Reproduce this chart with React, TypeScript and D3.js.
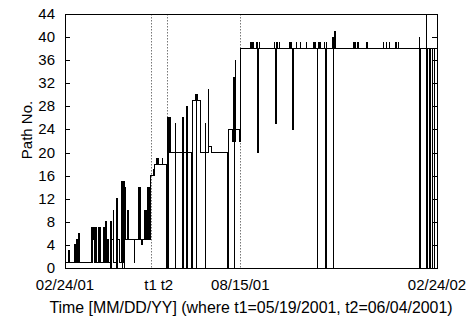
import React from "react";
import * as d3 from "d3";

// Day offsets from 02/24/2001 and path number at each change (step-after)
const days: number[] = [
  0, 3.88, 4.17, 9.69, 9.98, 11.63, 11.92, 13.56, 13.85, 26.16, 26.55, 27.13, 27.52, 28.29, 28.68,
  30.03, 30.42, 31.0, 31.39, 33.23, 33.62, 34.2, 34.59, 38.08, 38.46, 39.04, 39.43, 40.21, 40.6,
  41.37, 43.11, 44.57, 44.96, 45.34, 45.73, 47.18, 47.47, 50.38, 50.77, 51.16, 51.54, 53.77,
  55.9, 56.29, 56.68, 57.07, 57.65, 58.03, 58.42, 58.81, 59.39, 59.78, 61.72, 62.01, 67.82, 68.11,
  71.99, 72.37, 72.96, 73.34, 74.12, 74.51, 75.28, 75.57, 78.48, 78.87, 79.64, 80.03, 80.71, 81.09,
  81.87, 82.26, 82.84, 83.22, 84.0, 86.36, 86.67, 88.1, 89.74, 90.15, 90.97, 91.38, 95.59, 95.9,
  100.0, 100.3, 100.69, 101.18, 101.68, 102.17, 102.86, 103.25, 108.09, 108.38, 108.78, 114.99,
  115.29, 115.78, 116.18, 116.57, 119.23, 119.63, 120.02, 120.42, 124.36, 124.76, 127.62, 128.6,
  128.9, 130.28, 132.55, 137.48, 137.78, 138.17, 140.83, 141.13, 144.09, 159.87, 160.16, 164.11,
  164.5, 165.1, 165.49, 165.79, 166.08, 166.48, 166.97, 167.46, 167.76, 171.21, 172.0, 182.2,
  182.5, 183.48, 183.87, 184.95, 185.34, 188.09, 188.39, 189.07, 189.37, 190.35, 190.64, 205.36,
  205.75, 206.73, 207.03, 207.81, 208.21, 210.17, 210.46, 220.08, 220.47, 221.35, 221.75, 223.41,
  223.71, 227.14, 227.44, 231.07, 231.36, 236.96, 237.25, 243.82, 244.12, 244.9, 245.3, 247.75,
  248.14, 249.02, 249.42, 250.4, 250.79, 254.62, 254.91, 255.89, 256.29, 256.68, 261.98, 262.37,
  263.25, 263.74, 264.23, 264.72, 265.41, 265.8, 282.88, 283.27, 284.54, 284.94, 287.29, 287.68,
  296.02, 296.32, 312.31, 312.71, 315.45, 315.84, 318.2, 318.59, 324.09, 324.48, 325.26, 325.66,
  326.74, 327.03, 347.63, 347.93, 348.32, 354.7, 355.09, 355.48, 358.13, 358.53, 360.39, 360.78,
  362.55, 362.94, 365,
];
const paths: number[] = [
  1, 3, 1, 4, 1, 5, 1, 6, 1, 7, 1, 7, 5, 7, 1,
  7, 1, 7, 1, 7, 1, 7, 1, 7, 1, 7, 1, 8, 1,
  5, 1, 8, 0, 8, 5, 10, 1, 12, 0, 12, 5, 1,
  15, 0, 15, 1, 15, 0, 14, 5, 14, 5, 10, 5, 1, 5,
  14, 5, 14, 5, 14, 5, 4, 5, 10, 5, 10, 5, 14, 5,
  14, 5, 14, 5, 16, 17, 16, 18, 19, 18, 19, 18, 19, 18,
  0, 26, 0, 25, 26, 20, 26, 20, 25, 0, 20, 26,
  0, 26, 0, 20, 28, 0, 28, 20, 0, 29, 30, 0,
  30, 29, 20, 25, 0, 20, 31, 21, 20, 0, 24, 22,
  24, 22, 24, 33, 0, 22, 24, 36, 24, 22, 38, 39,
  38, 39, 38, 39, 38, 39, 38, 20, 38, 39, 38, 39,
  38, 25, 38, 39, 38, 39, 38, 39, 38, 39, 38, 24,
  38, 39, 38, 39, 38, 39, 38, 39, 38, 39, 38, 0,
  38, 39, 38, 39, 38, 39, 38, 0, 39, 38, 40, 38,
  0, 40, 41, 38, 41, 38, 39, 38, 39, 38, 39, 38,
  39, 38, 39, 38, 39, 38, 39, 38, 39, 38, 39, 38,
  39, 38, 40, 0, 38, 44, 0, 38, 0, 38, 0, 38,
  0, 38, 38,
];

const startDate = "2001-02-24";
const endDate = "2002-02-24";
const xTickDates = ["2001-02-24", "2001-05-19", "2001-06-04", "2001-08-15", "2002-02-24"];
const xTickLabels = ["02/24/01", "t1", "t2", "08/15/01", "02/24/02"];
const markerDates = ["2001-05-19", "2001-06-04", "2001-08-15"];
const yTicks = [0, 4, 8, 12, 16, 20, 24, 28, 32, 36, 40, 44];

const W = 471, H = 320;
const M = { left: 65, right: 437, top: 14, bottom: 268 };
const FONT = "'Liberation Sans', Arial, Helvetica, sans-serif";

export default function App() {
  const parse = (s: string) => new Date(s + "T00:00:00Z");
  const t0 = parse(startDate);
  const x = d3.scaleUtc().domain([t0, parse(endDate)]).range([M.left, M.right]);
  const y = d3.scaleLinear().domain([0, 44]).range([M.bottom, M.top]);
  const pts = days.map((d, i) => [new Date(t0.getTime() + d * 864e5), paths[i]] as [Date, number]);
  const line = d3
    .line<[Date, number]>()
    .x((p) => x(p[0]))
    .y((p) => y(p[1]))
    .curve(d3.curveStepAfter);

  return (
    <svg width={W} height={H} style={{ position: "absolute", left: 0, top: 0, background: "#fff" }}>
      <rect x={0} y={0} width={W} height={H} fill="#fff" />
      {markerDates.map((d) => (
        <line
          key={d}
          x1={Math.round(x(parse(d))) + 0.5}
          x2={Math.round(x(parse(d))) + 0.5}
          y1={M.top}
          y2={M.bottom}
          stroke="#777"
          strokeWidth={1}
          strokeDasharray="1.5,1.5"
        />
      ))}
      <path d={line(pts) || ""} fill="none" stroke="#000" strokeWidth={1} shapeRendering="crispEdges" />
      <rect
        x={M.left + 0.5}
        y={M.top + 0.5}
        width={M.right - M.left}
        height={M.bottom - M.top}
        fill="none"
        stroke="#000"
        strokeWidth={1}
        shapeRendering="crispEdges"
      />
      {yTicks.map((v) => (
        <g key={v}>
          <line x1={M.left} x2={M.left + 5} y1={Math.round(y(v)) + 0.5} y2={Math.round(y(v)) + 0.5} stroke="#000" />
          <line x1={M.right - 5} x2={M.right} y1={Math.round(y(v)) + 0.5} y2={Math.round(y(v)) + 0.5} stroke="#000" />
          <text x={55} y={y(v) + 5} textAnchor="end" fontFamily={FONT} fontSize={15} fill="#000">
            {v}
          </text>
        </g>
      ))}
      {xTickDates.map((d, i) => (
        <text key={d} x={x(parse(d))} y={290} textAnchor="middle" fontFamily={FONT} fontSize={15} fill="#000">
          {xTickLabels[i]}
        </text>
      ))}
      <text x={(M.left + M.right) / 2} y={313} textAnchor="middle" fontFamily={FONT} fontSize={15.9} fill="#000">
        Time [MM/DD/YY] (where t1=05/19/2001, t2=06/04/2001)
      </text>
      <text
        transform={`translate(32,130) rotate(-90)`}
        textAnchor="middle"
        fontFamily={FONT}
        fontSize={15}
        fill="#000"
      >
        Path No.
      </text>
    </svg>
  );
}
